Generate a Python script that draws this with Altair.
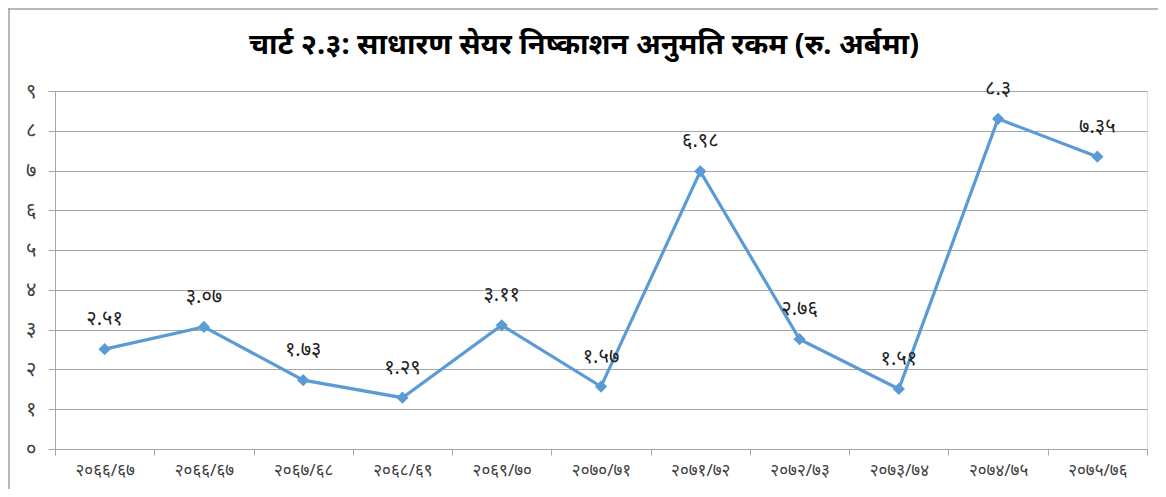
import json
import altair as alt
import pandas as pd

title_text = "चार्ट २.३: साधारण सेयर निष्काशन अनुमति रकम (रु. अर्बमा)"
years = ["२०६६/६७", "२०६६/६७", "२०६७/६८", "२०६८/६९", "२०६९/७०", "२०७०/७१",
         "२०७१/७२", "२०७२/७३", "२०७३/७४", "२०७४/७५", "२०७५/७६"]
values = [2.51, 3.07, 1.73, 1.29, 3.11, 1.57, 6.98, 2.76, 1.51, 8.3, 7.35]
value_labels = ["२.५१", "३.०७", "१.७३", "१.२९", "३.११", "१.५७", "६.९८", "२.७६", "१.५१", "८.३", "७.३५"]
y_ticks = [0, 1, 2, 3, 4, 5, 6, 7, 8, 9]
dev_digits = ["०", "१", "२", "३", "४", "५", "६", "७", "८", "९"]

df = pd.DataFrame({"idx": list(range(len(years))), "value": values, "label": value_labels})

FONT = "Noto Sans"
GRID = "#a6a6a6"
LINE = "#5b9bd5"

x_enc = alt.X("idx:O",
              scale=alt.Scale(type="band", paddingInner=0, paddingOuter=0),
              axis=alt.Axis(title=None, labelAngle=0, tickBand="extent",
                            labelExpr=json.dumps(years, ensure_ascii=False) + "[datum.value]",
                            labelFont=FONT, labelFontSize=17, labelColor="#404040",
                            labelPadding=7, tickSize=6, tickColor=GRID,
                            domainColor=GRID, grid=False))
y_enc = alt.Y("value:Q",
              scale=alt.Scale(domain=[0, 9], nice=False),
              axis=alt.Axis(title=None, values=y_ticks, labelOverlap=False,
                            labelExpr=json.dumps(dev_digits, ensure_ascii=False) + "[datum.value]",
                            labelFont=FONT, labelFontSize=20, labelColor="#404040",
                            labelPadding=12, tickSize=7, tickColor=GRID,
                            domainColor=GRID, gridColor=GRID, gridWidth=1.2))

base = alt.Chart(df)
line = base.mark_line(color=LINE, strokeWidth=3.2).encode(x=x_enc, y=y_enc)
pts = base.mark_point(shape="diamond", filled=True, color=LINE, size=150, opacity=1).encode(
    x=x_enc, y=y_enc)
txt = base.mark_text(dy=-30, fontSize=20, font=FONT, color="#222222").encode(
    x=x_enc, y=y_enc, text="label:N")

one = alt.Chart(alt.Data(values=[{"t": title_text}]))
title = one.mark_text(fontSize=29, fontWeight="bold", font=FONT, color="#000000",
                      align="center", baseline="middle").encode(
    x=alt.value(529), y=alt.value(-46), text="t:N")
border_top = one.mark_rule(color="#a0a0a0", strokeWidth=1.5).encode(
    x=alt.value(-47), x2=alt.value(1110), y=alt.value(-82))
border_left = one.mark_rule(color="#a0a0a0", strokeWidth=1.5).encode(
    x=alt.value(-46), y=alt.value(-83), y2=alt.value(400))

chart = alt.layer(border_top, border_left, title, line, pts, txt).properties(
    width=1092, height=358,
    autosize=alt.AutoSizeParams(type="none"),
    padding={"left": 47, "top": 83, "right": 11, "bottom": 40},
).configure_view(fill="#f2f2f2", stroke=None).configure(background="white")

chart.save("out.html", embed_options={"renderer": "svg", "actions": False})
